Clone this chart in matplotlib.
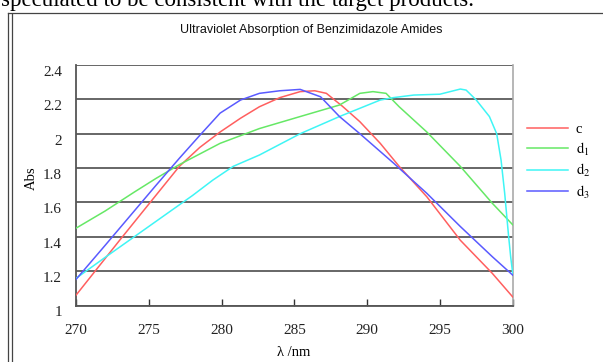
import matplotlib
matplotlib.use('Agg')
import matplotlib.pyplot as plt
import matplotlib.transforms as mtransforms
from matplotlib.lines import Line2D

# data (wavelength in nm, absorbance)
c_x = [270, 271.5, 273, 275, 277.1, 278.5, 279.9, 281.3, 282.6, 284.0, 285.4, 286.4, 287.2, 288.3, 289.5,
       290.9, 292.2, 294.1, 296.4, 298.6, 300]
c_y = [1.06, 1.22, 1.38, 1.59, 1.81, 1.92, 2.01, 2.09, 2.157, 2.21, 2.245, 2.25, 2.235, 2.16, 2.07,
       1.944, 1.81, 1.633, 1.38, 1.187, 1.05]

d1_x = [270, 272, 274, 275.5, 277.1, 279.9, 282.6, 285.4, 288.1, 289.5, 290.4, 291.3, 292.2, 294.1,
        296.4, 298.6, 300]
d1_y = [1.45, 1.55, 1.66, 1.74, 1.82, 1.944, 2.03, 2.10, 2.167, 2.235, 2.245, 2.235, 2.157, 2.01,
        1.81, 1.595, 1.47]

d2_x = [270, 272, 274, 276, 278, 279.4, 280.8, 282.6, 285.4, 288.1, 289.5, 290.9, 291.8, 293.2, 295.0,
        295.7, 296.4, 296.8, 297.5, 298.4, 298.9, 299.2, 299.45, 299.7, 299.86, 300]
d2_y = [1.158, 1.28, 1.40, 1.52, 1.64, 1.73, 1.81, 1.876, 2.0, 2.10, 2.148, 2.196, 2.21, 2.225, 2.23,
        2.245, 2.26, 2.254, 2.196, 2.10, 2.0, 1.847, 1.653, 1.42, 1.284, 1.187]

d3_x = [270, 272, 274, 275.5, 277.1, 278.5, 279.9, 281.3, 282.6, 284.0, 285.4, 286.8, 288.1, 289.5,
        291.8, 294.1, 296.4, 298.6, 300]
d3_y = [1.152, 1.35, 1.55, 1.70, 1.857, 1.99, 2.12, 2.196, 2.235, 2.25, 2.258, 2.215, 2.10, 2.0,
        1.83, 1.653, 1.46, 1.284, 1.177]

labels = ['c', r'$\mathrm{d_1}$', r'$\mathrm{d_2}$', r'$\mathrm{d_3}$']
colors = ['#ff5f5f', '#66e866', '#3ff5f5', '#5a5aff']
x_ticks = [270, 275, 280, 285, 290, 295, 300]
y_ticks = [1, 1.2, 1.4, 1.6, 1.8, 2, 2.2, 2.4]
y_tick_labels = ['1', '1.2', '1.4', '1.6', '1.8', '2', '2.2', '2.4']

plt.rcParams['mathtext.fontset'] = 'stix'

W, H = 603, 362
fig = plt.figure(figsize=(W / 100, H / 100), dpi=100)
fig.patch.set_facecolor('white')

# axes box in pixel positions
left, right, top, bottom = 76, 512.7, 65, 305.5
ax = fig.add_axes([left / W, 1 - bottom / H, (right - left) / W, (bottom - top) / H])

for xs, ys, col, lab in zip([c_x, d1_x, d2_x, d3_x], [c_y, d1_y, d2_y, d3_y], colors, labels):
    ax.plot(xs, ys, color=col, lw=1.1, label=lab, zorder=3)

ax.set_xlim(270, 300)
ax.set_ylim(1, 2.4)
ax.set_xticks(x_ticks)
ax.set_yticks(y_ticks)
ax.set_yticklabels(y_tick_labels)

# horizontal grid
ax.yaxis.grid(True, color='#5a5a5a', lw=1.3)
ax.set_axisbelow(True)

for s in ['left', 'bottom']:
    ax.spines[s].set_color('#555555')
    ax.spines[s].set_linewidth(1.3)
ax.spines['right'].set_color('#aaaaaa')
ax.spines['right'].set_linewidth(1.2)
ax.spines['top'].set_visible(False)

ax.tick_params(axis='x', direction='in', length=5, width=1, color='#333333', pad=13,
               labelsize=11, labelcolor='#222222')
ax.tick_params(axis='y', length=0, pad=10, labelsize=11, labelcolor='#222222')
for lab in ax.get_xticklabels() + ax.get_yticklabels():
    lab.set_family('Liberation Serif')
# y labels sit a bit below their lines
offset = mtransforms.ScaledTranslation(0, -6 / 100, fig.dpi_scale_trans)
for lab in ax.get_yticklabels():
    lab.set_transform(lab.get_transform() + offset)

# legend
leg = ax.legend(loc='upper left', bbox_to_anchor=(527 / W, 1 - 123 / H), bbox_transform=fig.transFigure,
                frameon=False, handlelength=2.8, labelspacing=0.3, handletextpad=0.55,
                borderpad=0, borderaxespad=0,
                prop={'family': 'Liberation Serif', 'size': 10.5})

# titles and axis labels
fig.text(311 / W, 1 - 30 / H, 'Ultraviolet Absorption of Benzimidazole Amides',
         ha='center', va='center', fontsize=9, family='Liberation Sans', color='#111111')
fig.text(31 / W, 1 - 178 / H, 'Abs', rotation=90, ha='center', va='center',
         fontsize=10.5, family='Liberation Serif')
fig.text(294 / W, 1 - 352 / H, 'λ /nm', ha='center', va='center',
         fontsize=10.5, family='Liberation Serif')

# document text cut off at the top and the chart frame
fig.text(1 / W, 1 - 6 / H, 'speculated to be consistent with the target products.',
         ha='left', va='baseline', fontsize=16.5, family='Liberation Serif', color='black')
fig.add_artist(Line2D([7.5 / W, 7.5 / W], [0, 1 - 12.5 / H], color='#444444', lw=0.9))
fig.add_artist(Line2D([11.5 / W, 11.5 / W], [0, 1 - 14 / H], color='#444444', lw=0.9))
fig.add_artist(Line2D([7.5 / W, 1], [1 - 12.5 / H, 1 - 12.5 / H], color='#444444', lw=0.9))

plt.savefig('out.png', dpi=100)
